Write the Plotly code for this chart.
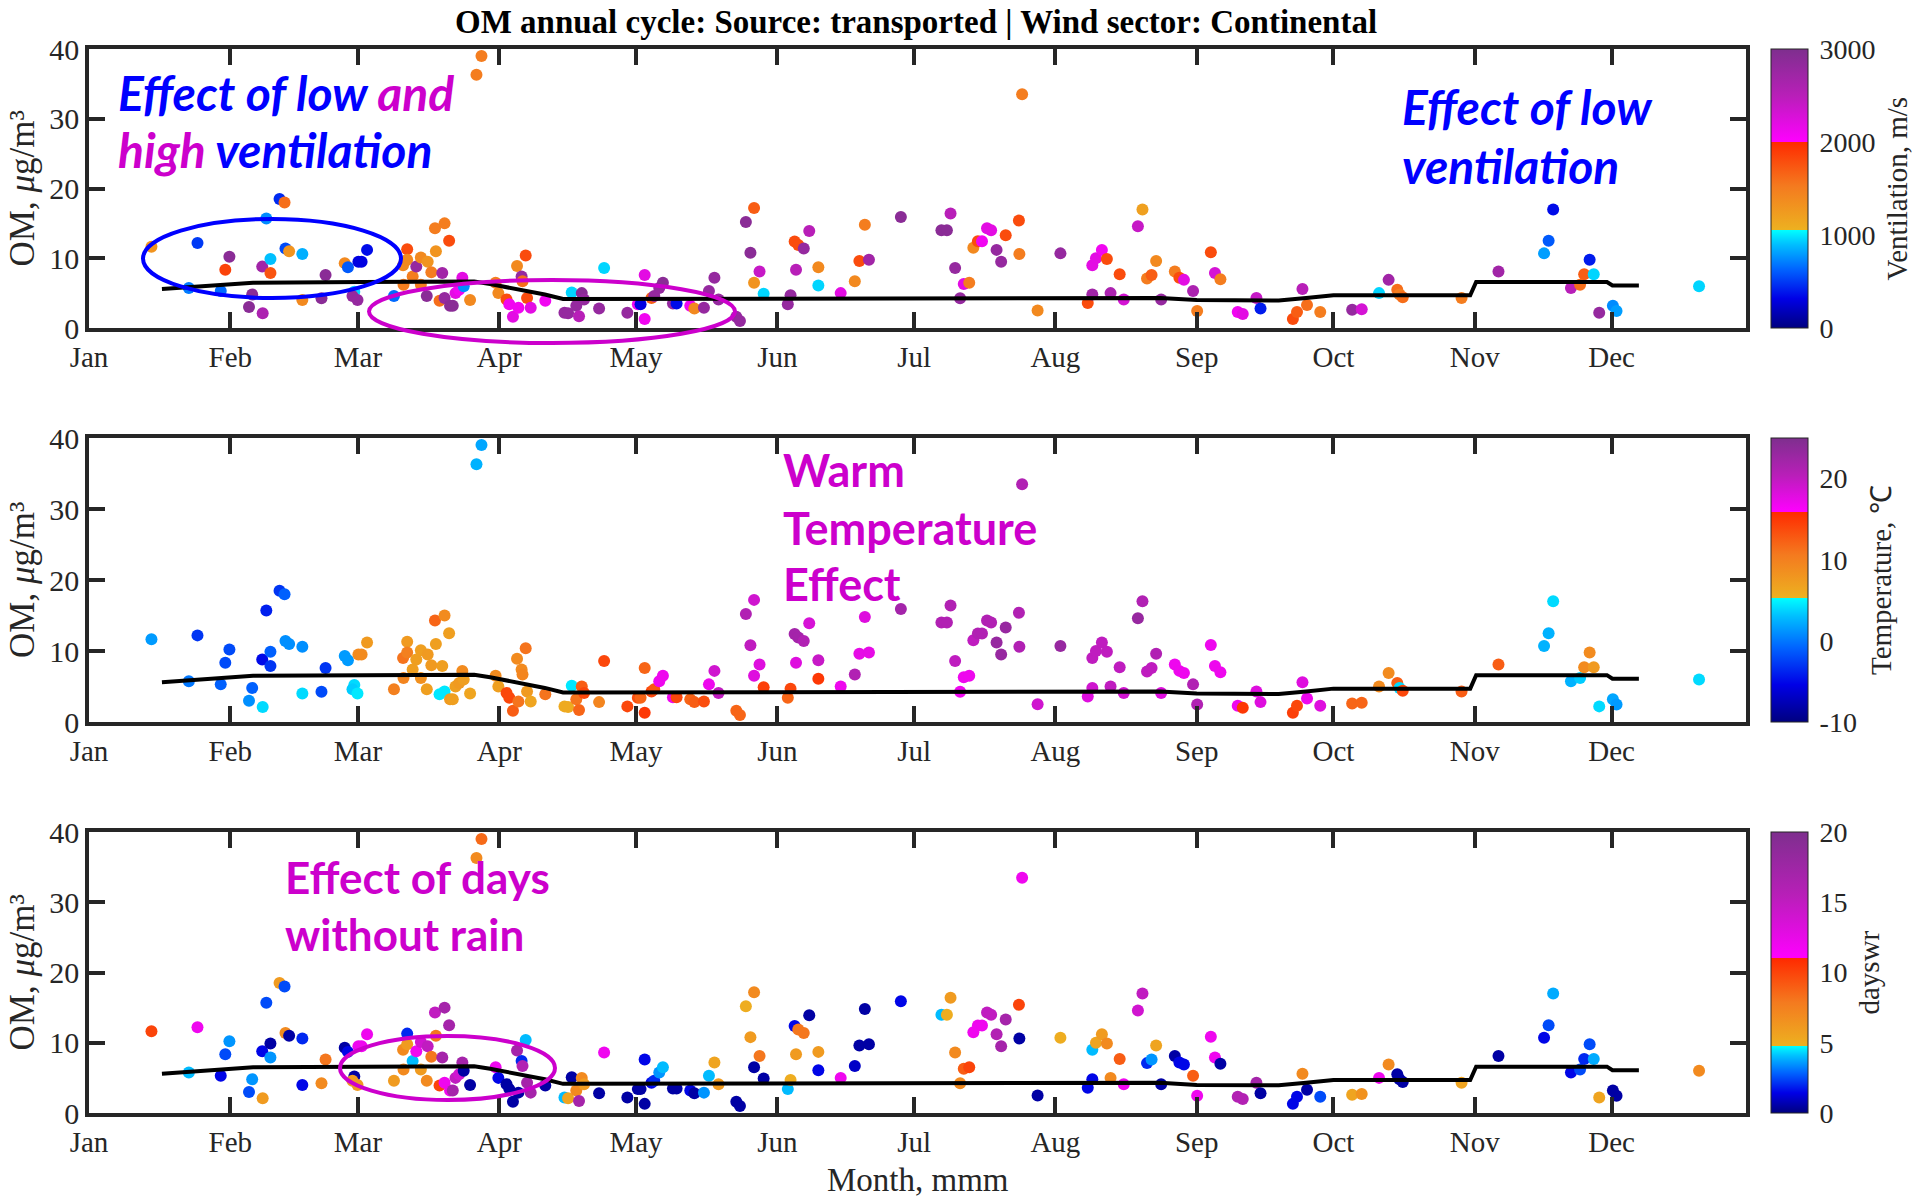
import plotly.graph_objects as go

# ---------------- data (day of year, Jan 1 = 0) ----------------
day = [13.7, 21.9, 23.8, 28.9, 29.9, 30.8, 35.1, 35.8, 38.1, 38.0, 38.9, 39.8, 39.8, 41.8, 42.9,
       43.1, 43.9, 46.8, 46.8, 51.0, 51.9, 56.1, 56.8, 58.2, 57.8, 58.9, 59.1, 59.8, 61.0, 66.9,
       68.9, 69.0, 69.8, 69.8, 71.0, 71.8, 72.8, 72.8, 74.1, 74.3, 75.1, 75.9, 76.1, 76.9, 77.5,
       78.0, 78.0, 79.0, 79.2, 79.8, 80.4, 81.2, 81.9, 82.2, 83.6, 85.0, 86.1, 89.2, 89.8, 91.6,
       92.2, 93.0, 93.9, 94.2, 94.9, 95.1, 95.8, 96.1, 96.9, 100.1, 104.3, 105.1, 105.9, 106.9, 107.5,
       108.1, 108.6, 111.9, 113.0, 118.1, 120.4, 121.0, 121.9, 121.9, 123.4, 124.0, 125.1, 125.9, 128.1, 128.9,
       131.9, 132.8, 134.9, 136.0, 137.2, 138.1, 142.0, 142.8, 144.1, 145.1, 145.9, 145.9, 147.1, 148.0, 153.3,
       153.9, 154.8, 155.1, 155.6, 156.8, 158.0, 160.0, 160.0, 164.9, 168.0, 169.0, 170.2, 171.1, 178.1,
       187.0, 188.2, 189.0, 190.0, 191.1, 191.9, 193.1, 194.0, 195.0, 195.9, 197.0, 197.9, 199.1, 200.1, 201.1,
       204.0, 204.1, 204.7, 208.1, 213.1, 219.1, 220.1, 220.1, 220.9, 222.2, 223.3, 224.1, 226.1, 227.0, 230.1,
       231.1, 232.1, 233.1, 234.1, 235.2, 238.2, 239.2, 240.2, 242.2, 243.1, 246.1, 247.0, 248.2, 252.0, 253.1,
       256.1, 257.0, 264.1, 265.0, 266.2, 267.2, 270.1, 277.1, 279.2, 283.0, 285.1, 287.0, 287.5, 288.2, 301.1,
       309.2, 319.2, 320.2, 321.2, 325.1, 327.1, 328.0, 329.2, 330.1, 331.3, 334.3, 335.1, 353.2]

om = [11.65, 5.75, 12.2, 5.3, 8.35, 10.2, 3.0, 4.8, 2.1, 8.8, 15.7, 7.9, 9.9, 18.5, 18.0,
      11.4, 11.0, 10.6, 4.0, 4.25, 7.6, 9.3, 8.7, 5.2, 4.6, 4.0, 9.5, 9.5, 11.2, 4.6,
      9.0, 6.2, 11.3, 9.8, 7.4, 8.8, 10.1, 6.2, 4.6, 9.5, 8.0, 14.3, 11.0, 3.9, 7.9,
      15.0, 4.3, 12.5, 3.2, 3.2, 5.0, 5.5, 7.2, 6.0, 4.0, 36.3, 39.0, 6.5, 5.0, 4.1,
      3.4, 1.6, 8.9, 2.9, 7.4, 6.7, 10.4, 4.3, 2.9, 3.9, 2.2, 2.1, 5.1, 3.2, 1.7,
      5.0, 4.1, 2.8, 8.6, 2.2, 3.4, 3.4, 7.6, 1.3, 4.3, 4.6, 5.75, 6.5, 3.5, 3.5,
      3.2, 2.8, 2.9, 5.3, 7.2, 4.1, 1.6, 1.0, 15.2, 10.8, 17.2, 6.5, 8.1, 4.9, 3.4,
      4.7, 12.4, 8.35, 11.9, 11.4, 13.9, 6.1, 8.7, 5.0, 6.7, 9.6, 14.8, 9.8, 15.9,
      14.0, 14.0, 16.4, 8.6, 4.25, 6.3, 6.5, 11.5, 12.45, 12.45, 14.3, 14.0, 11.2, 9.5, 13.3,
      15.4, 10.6, 33.5, 2.5, 10.7, 3.6, 9.0, 4.8, 10.0, 11.2, 9.9, 5.0, 7.7, 4.1, 14.6,
      17.0, 7.1, 7.6, 9.6, 4.1, 8.1, 7.2, 6.9, 5.3, 2.45, 10.85, 7.9, 7.0, 2.3, 2.0,
      4.3, 2.8, 1.3, 2.3, 5.6, 3.3, 2.3, 2.6, 2.7, 5.0, 6.9, 5.5, 4.8, 4.4, 4.3,
      8.1, 10.7, 12.5, 17.0, 5.75, 6.2, 7.7, 9.8, 7.7, 2.2, 3.2, 2.45, 6.0]

ventilation = [1300, 700, 500, 650, 1850, 2900, 2900, 2900, 2600, 2700, 750, 1750, 900, 450, 1600,
               550, 1300, 850, 1400, 2900, 2900, 1400, 600, 950, 2800, 2800, 300, 300, 350, 650,
               1400, 1500, 1800, 1400, 1500, 2800, 1400, 1500, 2900, 1300, 1500, 1500, 1300, 1600, 2700,
               1500, 2800, 1800, 2900, 2900, 2200, 2100, 2200, 750, 1400, 1500, 1500, 1500, 1400, 1800,
               2100, 2200, 1400, 2100, 2800, 1600, 1800, 1800, 2200, 2100, 2800, 2800, 950, 2800, 2500,
               2900, 2800, 2800, 950, 2800, 2100, 300, 2200, 2100, 1700, 2800, 2800, 2900, 2800, 350,
               2100, 1400, 2800, 2800, 2800, 2800, 2800, 2800, 2900, 2900, 1700, 1300, 2400, 950, 2800,
               2800, 1800, 2500, 1800, 2800, 2500, 950, 1400, 2200, 1400, 1800, 1500, 2700, 2900,
               2900, 2900, 2500, 2800, 2800, 2200, 1500, 1400, 1800, 2100, 2200, 2200, 2800, 2800, 1800,
               1800, 1500, 1500, 1400, 2800, 1800, 2200, 2700, 2200, 2100, 1800, 2600, 1800, 2300, 2400,
               1200, 1500, 1700, 1400, 2800, 1500, 1800, 2200, 2600, 1500, 1800, 2300, 1500, 2100, 2200,
               2400, 400, 1800, 1700, 2500, 1600, 1500, 2800, 2300, 950, 2700, 1600, 1500, 1600, 1500,
               2700, 800, 600, 350, 2500, 1600, 1700, 400, 950, 2800, 750, 800, 950]

temperature = [1.5, 0, -3, -1, -2, -2, 1, -1, 4, -5, -4, -3, -1, -3, -1,
               1, 1, 1, 4, -2, -3, 1.5, 1.5, 4, 3.5, 4.5, 9, 9, 7.5, 10,
               11, 9.5, 7.5, 10, 7, 7, 7, 8.5, 7, 7.5, 7.5, 12, 7, 4.5, 7,
               9, 4.5, 7, 7.5, 7, 7, 7.5, 9, 7, 6.5, 2.5, 2, 9, 7, 14,
               14, 12.5, 9, 11, 9, 9.5, 11, 7.5, 6.5, 11, 6, 6, 4.5, 11, 12,
               12.5, 14, 9.5, 14, 14, 13.5, 12, 12, 15, 14, 13, 17, 17, 17, 14,
               12, 12.5, 13.5, 17, 19, 20, 12, 12, 21, 20, 19, 18, 18, 14.5, 12,
               14, 22, 18, 22, 21, 18.5, 15, 19.5, 17, 21, 17.5, 18, 17.5, 22,
               21, 21, 21, 20, 17, 17, 17, 20, 21, 21, 21, 21, 23, 23, 23,
               21, 21, 21, 19, 23, 18, 20, 19, 20, 20, 20, 20, 20, 19, 23,
               21, 20, 20, 21, 18, 17, 17, 17, 21, 21, 17, 17, 17, 17, 15,
               18, 18, 14.5, 14, 18, 17, 18, 12, 12, 9, 9, 12.5, 4, 14, 12.5,
               12.5, 2.5, 2.5, 4, 2.5, 3.5, 9, 9, 7.5, 4, 2, 1.5, 4]

days_without_rain = [10, 4, 12, 1.5, 2.5, 3.5, 2.5, 3.5, 6, 1.5, 2.5, 3.5, 0.5, 6, 2.5,
                     7, 0.5, 2, 1.5, 7, 8, 0.5, 1.5, 0.5, 6, 6, 12, 12, 12, 6,
                     7, 7, 2, 6, 4, 12, 14, 6, 7, 15, 8, 15, 8, 10, 17,
                     17, 12, 17, 12, 17, 15, 14, 17, 0.5, 0.5, 7, 8.5, 12, 1.5, 0.5,
                     0.5, 0.5, 17, 0.5, 2, 16, 4, 17, 17, 0.5, 4, 5.5, 0.5, 7, 17,
                     7, 6, 0.5, 12, 0.5, 0.5, 0.5, 1.5, 0.5, 1.5, 2, 3.5, 4, 0.5, 0.5,
                     1.5, 0.5, 3.5, 4, 5.5, 6, 0.5, 0.5, 5, 6, 7, 0.5, 8, 0.5, 4,
                     5, 1.5, 6, 8, 8, 0.5, 1.5, 6, 12, 1, 0.5, 0.5, 0.5, 1.5,
                     4, 5, 6, 7, 7, 9, 10, 12, 12, 12, 15, 15, 16, 17, 17,
                     10, 0.5, 12, 0.5, 5, 1.5, 4, 1.5, 5.5, 6, 7, 7, 9, 12, 14,
                     15, 2, 3.5, 5.5, 0.5, 0.5, 1.5, 1.5, 9, 12, 12, 12, 0.5, 16, 16,
                     17, 0.5, 1.5, 1.5, 7, 0.5, 2.5, 5.5, 6.5, 12, 7, 0.5, 0.5, 0.5, 5.5,
                     0.5, 1.5, 2.5, 3.8, 1.5, 2.5, 2, 2.5, 3.8, 5.5, 0.5, 0.5, 7]

median_day = [16, 20, 30, 36, 60, 84.5, 88, 100, 104, 150, 200, 235, 243, 261, 267, 273,
              303, 304.3, 333, 334.2, 340]
median_om = [5.6, 5.8, 6.2, 6.5, 6.6, 6.65, 6.3, 4.8, 4.15, 4.2, 4.25, 4.3, 4.0, 3.95, 4.3, 4.7,
             4.7, 6.6, 6.6, 6.1, 6.1]

month_ticks = [0, 31, 59, 90, 120, 151, 181, 212, 243, 273, 304, 334]
month_labels = ["Jan", "Feb", "Mar", "Apr", "May", "Jun", "Jul", "Aug", "Sep", "Oct", "Nov", "Dec"]
om_ticks = [0, 10, 20, 30, 40]
vent_ticks = [0, 1000, 2000, 3000]
temp_ticks = [-10, 0, 10, 20]
dswr_ticks = [0, 5, 10, 15, 20]

# ---------------- geometry ----------------
W, H = 1915, 1197
L, R, T, B = 89, 1746, 49, 1113
PW, PH = R - L, B - T


def py(p):  # pixel y -> paper y
    return (B - p) / PH


def px(p):  # pixel x -> paper x
    return (p - L) / PW


panels = [(49, 328), (438, 722), (832, 1113)]
domains = [[py(b), py(t)] for t, b in panels]


def cscale(f1, f2):
    return [[0, '#000080'], [0.3 * f1, '#0000E6'], [0.6 * f1, '#0064FF'], [0.85 * f1, '#00BEFF'],
            [f1, '#00FFFF'], [f1, '#EDB120'], [(f1 + f2) / 2, '#F47A1F'], [f2, '#FF2A00'],
            [f2, '#FF00FF'], [(f2 + 1) / 2, '#B81FB8'], [1, '#7E2F8E']]


SERIF = "Liberation Serif, Times New Roman, serif"
AX = '#262626'

specs = [
    (ventilation, 0, 3000, cscale(0.351, 0.667), vent_ticks, "Ventilation, m/s", 1897),
    (temperature, -10, 25, cscale(0.437, 0.74), temp_ticks, "Temperature, \u2103", 1881),
    (days_without_rain, 0, 20, cscale(0.238, 0.55), dswr_ticks, "dayswr", 1868),
]

fig = go.Figure()
annotations = []
for i, (cvals, cmin, cmax, cs, cticks, ctitle, tx) in enumerate(specs):
    k = '' if i == 0 else str(i + 1)
    d0, d1 = domains[i]
    fig.add_trace(go.Scatter(
        x=day, y=om, mode='markers', xaxis='x' + k, yaxis='y' + k, showlegend=False,
        marker=dict(size=12, color=cvals, cmin=cmin, cmax=cmax, colorscale=cs,
                    line=dict(width=0),
                    colorbar=dict(x=px(1771), xanchor='left', xpad=0, ypad=0, thickness=37,
                                  len=d1 - d0, lenmode='fraction', y=(d0 + d1) / 2, yanchor='middle',
                                  tickvals=cticks, ticktext=[str(v) for v in cticks],
                                  ticks='outside', ticklen=6, tickcolor='rgba(0,0,0,0)',
                                  outlinewidth=1, outlinecolor=AX,
                                  tickfont=dict(family=SERIF, size=28, color=AX)))))
    fig.add_trace(go.Scatter(x=median_day, y=median_om, mode='lines', xaxis='x' + k, yaxis='y' + k,
                             showlegend=False, line=dict(color='black', width=4)))
    fig.update_layout(**{
        'xaxis' + k: dict(domain=[0, 1], anchor='y' + k, range=[0, 363.5], tickvals=month_ticks,
                          ticktext=month_labels, ticks='inside', ticklen=16, tickwidth=3.5,
                          tickcolor=AX, showline=True, linecolor=AX, linewidth=3.5, mirror='ticks',
                          showgrid=False, zeroline=False,
                          tickfont=dict(family=SERIF, size=29, color=AX)),
        'yaxis' + k: dict(domain=[d0, d1], anchor='x' + k, range=[0, 40], tickvals=om_ticks,
                          ticks='inside', ticklen=16, tickwidth=3.5, tickcolor=AX, showline=True,
                          linecolor=AX, linewidth=3.5, mirror='ticks', showgrid=False,
                          zeroline=False, tickfont=dict(family=SERIF, size=30, color=AX)),
    })
    annotations.append(dict(text="OM, <i>\u03bc</i>g/m\u00b3", xref='paper', yref='paper',
                            x=px(22), y=(d0 + d1) / 2, xanchor='center', yanchor='middle',
                            textangle=-90, showarrow=False,
                            font=dict(family=SERIF, size=35, color=AX)))
    annotations.append(dict(text=ctitle, xref='paper', yref='paper', x=px(tx), y=(d0 + d1) / 2,
                            xanchor='center', yanchor='middle', textangle=-90, showarrow=False,
                            font=dict(family=SERIF, size=29, color=AX)))

BLUE, MAG = '#0000FF', '#CC00CC'
SANS = "Lato, Open Sans, sans-serif"


def line_note(text, x, y, color, size):
    return dict(text=text, xref='paper', yref='paper', x=px(x), y=py(y), xanchor='left',
                yanchor='middle', align='left', showarrow=False,
                font=dict(family=SANS, size=size, color=color))


annotations += [
    dict(text="<b>OM annual cycle: Source: transported | Wind sector: Continental</b>",
         xref='paper', yref='paper', x=px(916), y=py(22), xanchor='center', yanchor='middle',
         showarrow=False, font=dict(family=SERIF, size=33, color='black')),
    dict(text="Month, mmm", xref='paper', yref='paper', x=px(918), y=py(1180), xanchor='center',
         yanchor='middle', showarrow=False, font=dict(family=SERIF, size=33, color=AX)),
    line_note(f"<b><i>Effect of low <span style='color:{MAG}'>and</span></i></b>", 116, 92, BLUE, 48),
    line_note(f"<b><i>high <span style='color:{BLUE}'>ventilation</span></i></b>", 116, 149, MAG, 48),
    line_note("<b><i>Effect of low</i></b>", 1400, 106, BLUE, 48),
    line_note("<b><i>ventilation</i></b>", 1400, 165, BLUE, 48),
    line_note("<b>Warm</b>", 781, 470, MAG, 45),
    line_note("<b>Temperature</b>", 781, 528, MAG, 45),
    line_note("<b>Effect</b>", 781, 584, MAG, 45),
    line_note("<b>Effect of days</b>", 283, 877, MAG, 44),
    line_note("<b>without rain</b>", 283, 934, MAG, 44),
]

shapes = [
    dict(type='circle', xref='paper', yref='paper', x0=px(143), x1=px(401), y0=py(298), y1=py(219),
         line=dict(color=BLUE, width=4)),
    dict(type='circle', xref='paper', yref='paper', x0=px(369), x1=px(735), y0=py(343), y1=py(280),
         line=dict(color=MAG, width=4)),
    dict(type='circle', xref='paper', yref='paper', x0=px(340), x1=px(555), y0=py(1100), y1=py(1036),
         line=dict(color=MAG, width=4)),
]

fig.update_layout(width=W, height=H, autosize=False, margin=dict(l=L, r=W - R, t=T, b=H - B),
                  paper_bgcolor='white', plot_bgcolor='white', annotations=annotations,
                  shapes=shapes, showlegend=False)

fig.write_html("out.html")
